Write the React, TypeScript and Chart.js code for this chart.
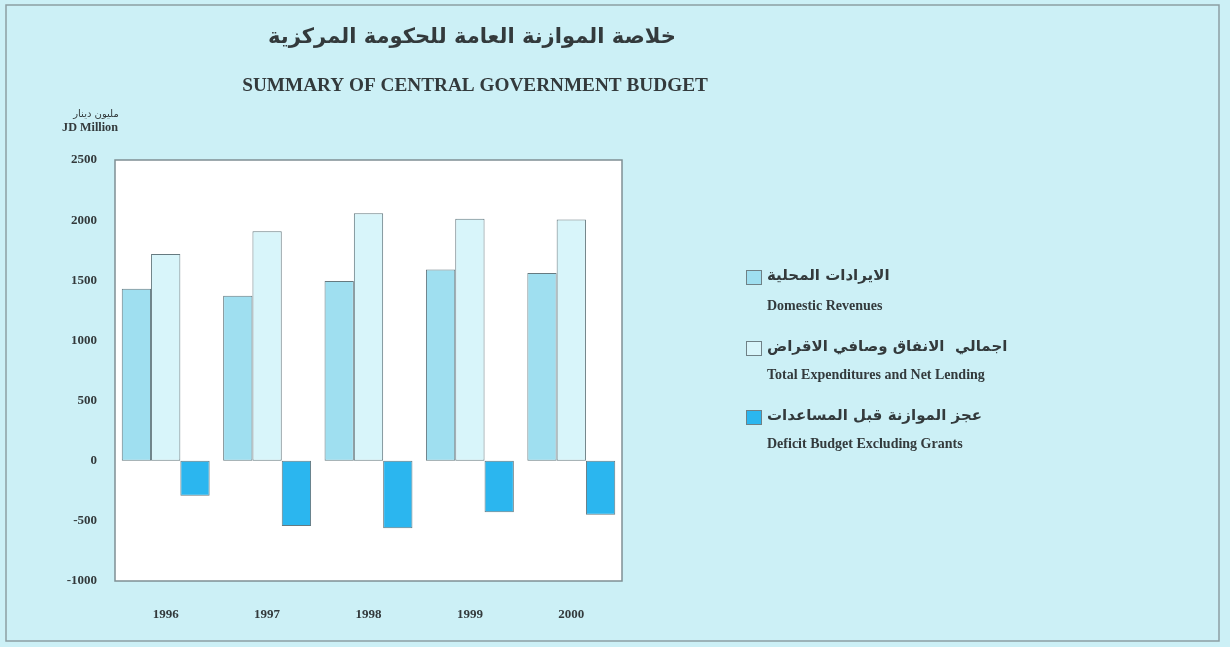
import { useEffect, useRef } from "react";
import { Chart, registerables } from "chart.js";
Chart.register(...registerables);

const years = ["1996", "1997", "1998", "1999", "2000"];
const domesticRevenues = [1430, 1372, 1494, 1589, 1561];
const totalExpenditures = [1719, 1908, 2058, 2011, 2006];
const deficitExclGrants = [-292, -542, -561, -428, -450];
const yMin = -1000;
const yMax = 2500;
const yStep = 500;

const titleArabic = "خلاصة الموازنة العامة للحكومة المركزية";
const titleEnglish = "SUMMARY OF CENTRAL GOVERNMENT BUDGET";
const unitArabic = "مليون دينار";
const unitEnglish = "JD Million";
const seriesArabic = [
  "الايرادات المحلية",
  "اجمالي  الانفاق وصافي الاقراض",
  "عجز الموازنة قبل المساعدات",
];
const seriesEnglish = [
  "Domestic Revenues",
  "Total Expenditures and Net Lending",
  "Deficit Budget Excluding Grants",
];
const seriesColors = ["#9fdff0", "#d8f5fa", "#2bb6ef"];

const BG = "#ccf0f6";
const TEXT = "#333a3c";
const SERIF = "'Liberation Serif', 'DejaVu Serif', serif";
const ARABIC = "'DejaVu Sans', 'Noto Sans', sans-serif";

function fitFont(ctx: CanvasRenderingContext2D, text: string, weight: string, family: string, target: number, base: number) {
  ctx.font = `${weight} ${base}px ${family}`;
  const w = ctx.measureText(text).width;
  const size = w > 0 ? (base * target) / w : base;
  ctx.font = `${weight} ${size}px ${family}`;
}

const decorPlugin = {
  id: "decor",
  beforeDraw(chart: any) {
    const { ctx, chartArea } = chart;
    ctx.save();
    ctx.fillStyle = BG;
    ctx.fillRect(0, 0, chart.width, chart.height);
    ctx.strokeStyle = "#8c9ea3";
    ctx.lineWidth = 1.5;
    ctx.strokeRect(6, 5, 1213, 636);
    ctx.fillStyle = "#ffffff";
    ctx.fillRect(chartArea.left, chartArea.top, chartArea.right - chartArea.left, chartArea.bottom - chartArea.top);
    ctx.restore();
  },
  afterDraw(chart: any) {
    const { ctx, chartArea } = chart;
    ctx.save();
    ctx.strokeStyle = "#7f8f94";
    ctx.lineWidth = 1.5;
    ctx.strokeRect(chartArea.left, chartArea.top, chartArea.right - chartArea.left, chartArea.bottom - chartArea.top);

    ctx.fillStyle = TEXT;
    ctx.textBaseline = "middle";
    // titles
    ctx.textAlign = "center";
    ctx.direction = "rtl";
    fitFont(ctx, titleArabic, "bold", ARABIC, 408, 20);
    ctx.fillText(titleArabic, 472, 38);
    ctx.direction = "ltr";
    fitFont(ctx, titleEnglish, "bold", SERIF, 466, 15);
    ctx.fillText(titleEnglish, 475, 86);

    // unit label
    ctx.direction = "rtl";
    ctx.font = `normal 10px ${ARABIC}`;
    ctx.fillText(unitArabic, 96, 114);
    ctx.direction = "ltr";
    fitFont(ctx, unitEnglish, "bold", SERIF, 56, 12);
    ctx.fillText(unitEnglish, 90, 128);

    // legend
    const rows = [
      { box: 270, ar: 276, en: 306 },
      { box: 341, ar: 347, en: 375 },
      { box: 410, ar: 416, en: 444 },
    ];
    const ds = chart.data.datasets;
    rows.forEach((r, i) => {
      ctx.fillStyle = ds[i].backgroundColor;
      ctx.fillRect(746, r.box, 16, 15);
      ctx.strokeStyle = "#6f8186";
      ctx.lineWidth = 1;
      ctx.strokeRect(746.5, r.box + 0.5, 15, 14);
      ctx.fillStyle = TEXT;
      ctx.textAlign = "left";
      ctx.direction = "rtl";
      ctx.font = `bold 15px ${ARABIC}`;
      ctx.fillText(seriesArabic[i], 767, r.ar);
      ctx.direction = "ltr";
      ctx.font = `bold 14px ${SERIF}`;
      ctx.fillText(seriesEnglish[i], 767, r.en);
    });
    ctx.restore();
  },
};

export default function App() {
  const ref = useRef<HTMLCanvasElement>(null);
  useEffect(() => {
    document.body.style.margin = "0";
    const chart = new Chart(ref.current!, {
      type: "bar",
      data: {
        labels: years,
        datasets: [
          { label: seriesEnglish[0], data: domesticRevenues, backgroundColor: seriesColors[0] },
          { label: seriesEnglish[1], data: totalExpenditures, backgroundColor: seriesColors[1] },
          { label: seriesEnglish[2], data: deficitExclGrants, backgroundColor: seriesColors[2] },
        ].map((d) => ({
          ...d,
          borderColor: "#667a80",
          borderWidth: 1,
          borderSkipped: false,
          categoryPercentage: 0.867,
          barPercentage: 1,
        })) as any,
      },
      options: {
        animation: false,
        responsive: false,
        layout: { padding: { left: 0, top: 160, right: 608, bottom: 0 } },
        plugins: { legend: { display: false }, title: { display: false }, tooltip: { enabled: false } },
        scales: {
          x: {
            grid: { display: false, drawTicks: false },
            border: { display: false },
            ticks: { color: TEXT, font: { family: SERIF, size: 13, weight: "bold" }, padding: 26 },
            afterFit: (s: any) => { s.height = 66; },
          },
          y: {
            min: yMin,
            max: yMax,
            grid: { display: false, drawTicks: false },
            border: { display: false },
            ticks: {
              stepSize: yStep,
              color: TEXT,
              font: { family: SERIF, size: 13, weight: "bold" },
              padding: 18,
              callback: (v: any) => String(v),
            },
            afterFit: (s: any) => { s.width = 115; },
          },
        },
      } as any,
      plugins: [decorPlugin],
    });
    return () => chart.destroy();
  }, []);
  return (
    <div style={{ position: "absolute", left: 0, top: 0, width: 1230, height: 647 }}>
      <canvas ref={ref} width={1230} height={647} style={{ width: 1230, height: 647, display: "block" }} />
    </div>
  );
}
